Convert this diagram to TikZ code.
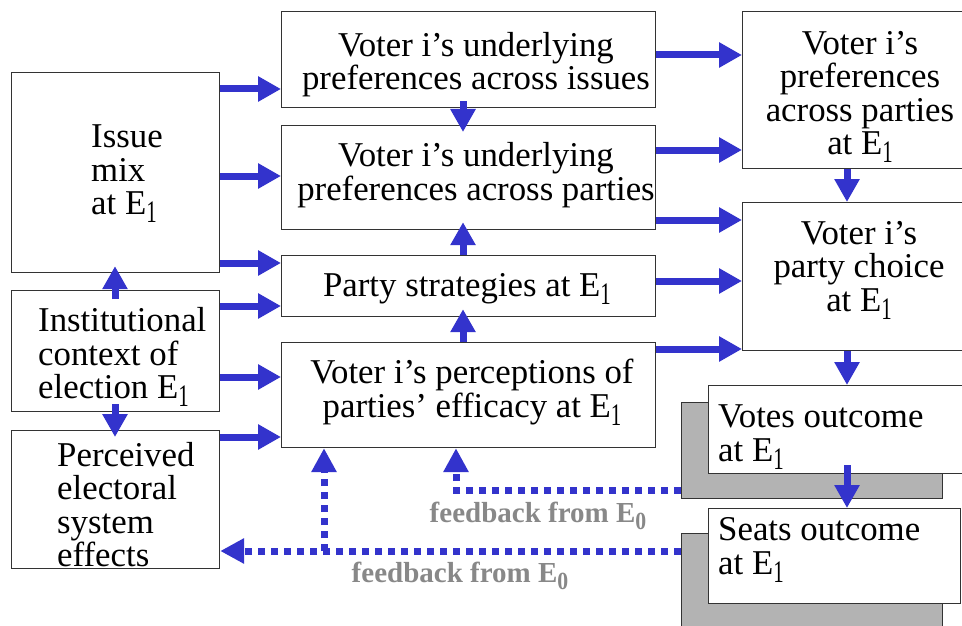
\documentclass[tikz,border=0pt]{standalone}
\usepackage{fontspec}
\setmainfont{Liberation Serif}
\usetikzlibrary{arrows.meta}
\definecolor{arrblue}{HTML}{3333CC}
\definecolor{fbgray}{HTML}{888888}
\definecolor{shgray}{HTML}{B3B3B3}
\newcommand\subone{\raisebox{-0.23em}{\scalebox{0.6}[0.9]{1}}}
\newcommand\subzero{\raisebox{-0.22em}{\scalebox{0.75}[0.85]{0}}}
\begin{document}
\begin{tikzpicture}[x=1pt,y=-1pt,
 box/.style={draw=black!80, line width=1.2pt, fill=white, anchor=north west, inner sep=0pt},
 shadowbox/.style={draw=black!80, line width=1pt, fill=shgray, anchor=north west, inner sep=0pt},
 txt/.style={font=\fontsize{34.8}{33.5}\selectfont, inner sep=0pt},
 arr/.style={draw=arrblue, line width=7pt, -{Triangle[length=23pt,width=24pt]}},
 dots/.style={draw=arrblue, line width=7pt, dash pattern=on 7pt off 6pt, -{Triangle[length=24pt,width=24pt]}},
 fb/.style={text=fbgray, font=\fontsize{29}{29}\selectfont\bfseries, inner sep=0pt}]
\useasboundingbox (0,0) rectangle (962,626);
\clip (0,0) rectangle (962,626);
\fill[white] (0,0) rectangle (962,626);

% shadows
\node[shadowbox, minimum width=261pt, minimum height=96pt] (sv) at (681,402) {};
\node[shadowbox, minimum width=261pt, minimum height=107pt] (ss) at (681,533) {};

% boxes
\node[box, minimum width=208pt, minimum height=200pt] (issue) at (11,72) {};
\node[box, minimum width=208pt, minimum height=121pt] (inst) at (11,290) {};
\node[box, minimum width=208pt, minimum height=138pt] (perc) at (11,430) {};
\node[box, minimum width=374pt, minimum height=96pt] (iss) at (281,11) {};
\node[box, minimum width=374pt, minimum height=104pt] (par) at (281,125) {};
\node[box, minimum width=374pt, minimum height=61pt] (strat) at (281,255) {};
\node[box, minimum width=374pt, minimum height=105pt] (effic) at (281,342) {};
\node[box, minimum width=240pt, minimum height=157pt] (rpref) at (742,11) {};
\node[box, minimum width=240pt, minimum height=148pt] (choice) at (742,202) {};
\node[box, minimum width=270pt, minimum height=88pt] (votes) at (708,385) {};
\node[box, minimum width=252pt, minimum height=95pt] (seats) at (708,508) {};

% texts
\node[txt, anchor=west, align=left] (issuet) at (91,174) {Issue\\mix\\at E\subone};
\node[txt, anchor=west, align=left] (instt) at (38,357) {Institutional\\context of\\election E\subone};
\node[txt, anchor=west, align=left] (perct) at (57,504.5) {Perceived\\electoral\\system\\effects};
\node[txt, align=center] (isst) at (476,64.5) {Voter i’s underlying\\preferences across issues};
\node[txt, align=center] (part) at (476,175) {Voter i’s underlying\\preferences across parties};
\node[txt, align=center] (stratt) at (467,288.5) {Party strategies at E\subone};
\node[txt, align=center] (effict) at (472,392) {Voter i’s perceptions of\\parties’ efficacy at E\subone};
\node[txt, align=center] (rpreft) at (860,97) {Voter i’s\\preferences\\across parties\\at E\subone};
\node[txt, align=center] (choicet) at (859,270) {Voter i’s\\party choice\\at E\subone};
\node[txt, anchor=west, align=left] (votest) at (718,437) {Votes outcome\\at E\subone};
\node[txt, anchor=west, align=left] (seatst) at (718,550) {Seats outcome\\at E\subone};

% horizontal arrows
\draw[arr] (issue.east |- 0,89) -- (iss.west |- 0,89);
\draw[arr] (issue.east |- 0,176) -- (par.west |- 0,176);
\draw[arr] (issue.east |- 0,263) -- (strat.west |- 0,263);
\draw[arr] (inst.east |- 0,306) -- (strat.west |- 0,306);
\draw[arr] (inst.east |- 0,377) -- (effic.west |- 0,377);
\draw[arr] (perc.east |- 0,437) -- (effic.west |- 0,437);
\draw[arr] (iss.east |- 0,55) -- (rpref.west |- 0,55);
\draw[arr] (par.east |- 0,150) -- (rpref.west |- 0,150);
\draw[arr] (par.east |- 0,220) -- (choice.west |- 0,220);
\draw[arr] (strat.east |- 0,281) -- (choice.west |- 0,281);
\draw[arr] (effic.east |- 0,349) -- (choice.west |- 0,349);

% vertical arrows
\draw[arr, shorten <=-9pt, shorten >=-7pt] (inst.north -| 115,0) -- (issue.south -| 115,0);
\draw[arr, shorten <=-8pt, shorten >=-7pt] (inst.south -| 115,0) -- (perc.north -| 115,0);
\draw[arr, shorten <=-7pt, shorten >=-7pt] (iss.south -| 463,0) -- (par.north -| 463,0);
\draw[arr, shorten >=-8pt] (strat.north -| 463,0) -- (par.south -| 463,0);
\draw[arr, shorten >=-8pt] (effic.north -| 463,0) -- (strat.south -| 463,0);
\draw[arr] (rpref.south -| 847,0) -- (choice.north -| 847,0);
\draw[arr] (choice.south -| 847,0) -- (votes.north -| 847,0);
\draw[arr, shorten <=-9pt] (votes.south -| 847,0) -- (seats.north -| 847,0);

% feedback
\draw[dots] (sv.west |- 0,490) -| (effic.south -| 456,0);
\draw[dots] (ss.west |- 0,551) -- (perc.east |- 0,551);
\coordinate (br) at (324,551);
\draw[dots] (br) -- (effic.south -| br);

\node[fb] (fb1) at (538,516) {feedback from E\subzero};
\node[fb] (fb2) at (460,576) {feedback from E\subzero};
\end{tikzpicture}
\end{document}
